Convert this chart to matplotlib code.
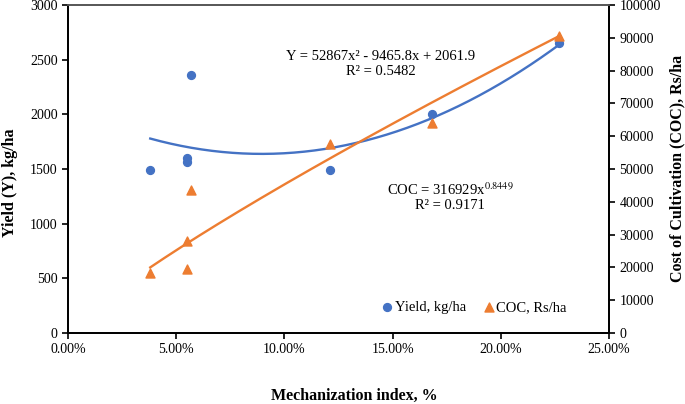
import matplotlib.pyplot as plt
import numpy as np
from matplotlib.ticker import FuncFormatter

plt.rcParams['font.family'] = ['Liberation Serif', 'DejaVu Serif']
plt.rcParams['mathtext.fontset'] = 'stix'

# mechanization index (fraction), yield kg/ha, cost of cultivation Rs/ha
mi_yield = [0.038, 0.055, 0.055, 0.057, 0.121, 0.168, 0.227]
yield_kg = [1495, 1605, 1560, 2360, 1490, 2005, 2655]
mi_coc = [0.038, 0.055, 0.055, 0.057, 0.121, 0.168, 0.227]
coc_rs = [18400, 28000, 19400, 43600, 57500, 64000, 90500]

# trendline coefficients as printed on the chart
poly_coef = [52867, -9465.8, 2061.9]
pow_a, pow_b = 316929, 0.8449

blue = '#4472C4'
orange = '#ED7D31'

fig = plt.figure(figsize=(6.85, 4.04), dpi=100)
ax = fig.add_axes([68/685, 1 - 333/404, (609-68)/685, (333-5)/404])
ax2 = ax.twinx()

xs = np.linspace(min(mi_yield), max(mi_yield), 200)
ax.plot(xs, np.polyval(poly_coef, xs), color=blue, lw=1.7)
ax.scatter(mi_yield, yield_kg, color=blue, s=32, marker='o', zorder=3,
           label='Yield, kg/ha')

xc = np.linspace(min(mi_coc), max(mi_coc), 200)
ax2.plot(xc, pow_a * xc ** pow_b, color=orange, lw=1.7)
ax2.scatter(mi_coc, coc_rs, color=orange, s=42, marker='^', zorder=3,
            label='COC, Rs/ha')

ax.set_xlim(0, 0.25)
ax.set_ylim(0, 3000)
ax2.set_ylim(0, 100000)
ax.set_xticks(np.arange(0, 0.2501, 0.05))
ax.set_yticks(range(0, 3001, 500))
ax2.set_yticks(range(0, 100001, 10000))
ax.xaxis.set_major_formatter(FuncFormatter(lambda v, p: f'{v*100:.2f}%'))

for a in (ax, ax2):
    a.tick_params(labelsize=10, length=4, width=1.2)
    for s in a.spines.values():
        s.set_linewidth(1.3)
    a.spines['top'].set_color('#595959')
ax.tick_params(axis='x', pad=3)

fig.text(10/685, 1 - 183/404, 'Yield (Y), kg/ha', rotation=90, ha='center',
         va='center', fontweight='bold', fontsize=11.5)
fig.text(677/685, 1 - 168/404, 'Cost of Cultivation (COC), Rs/ha',
         rotation=90, ha='center', va='center', fontweight='bold',
         fontsize=11.5)
fig.text(354/685, 1 - 396/404, 'Mechanization index, %', ha='center',
         va='center', fontweight='bold', fontsize=11.5)

ax.text(0.1446, 2533, 'Y = 52867x² - 9465.8x + 2061.9', ha='center',
        va='center', fontsize=10.5)
ax.text(0.1446, 2396, 'R² = 0.5482', ha='center', va='center', fontsize=10.5)
ax2.text(0.1765, 43600, 'COC = 316929x$^{0.8449}$', ha='center',
         va='center', fontsize=10.5)
ax2.text(0.1765, 39000, 'R² = 0.9171', ha='center', va='center',
         fontsize=10.5)

h1, l1 = ax.get_legend_handles_labels()
h2, l2 = ax2.get_legend_handles_labels()
ax2.legend(h1 + h2, l1 + l2, loc='center left', bbox_to_anchor=(0.566, 0.079),
           ncol=2, frameon=False, fontsize=10.5, handletextpad=0.1,
           handlelength=0.8, borderpad=0, columnspacing=1.2)

fig.savefig('out.png', dpi=100)
